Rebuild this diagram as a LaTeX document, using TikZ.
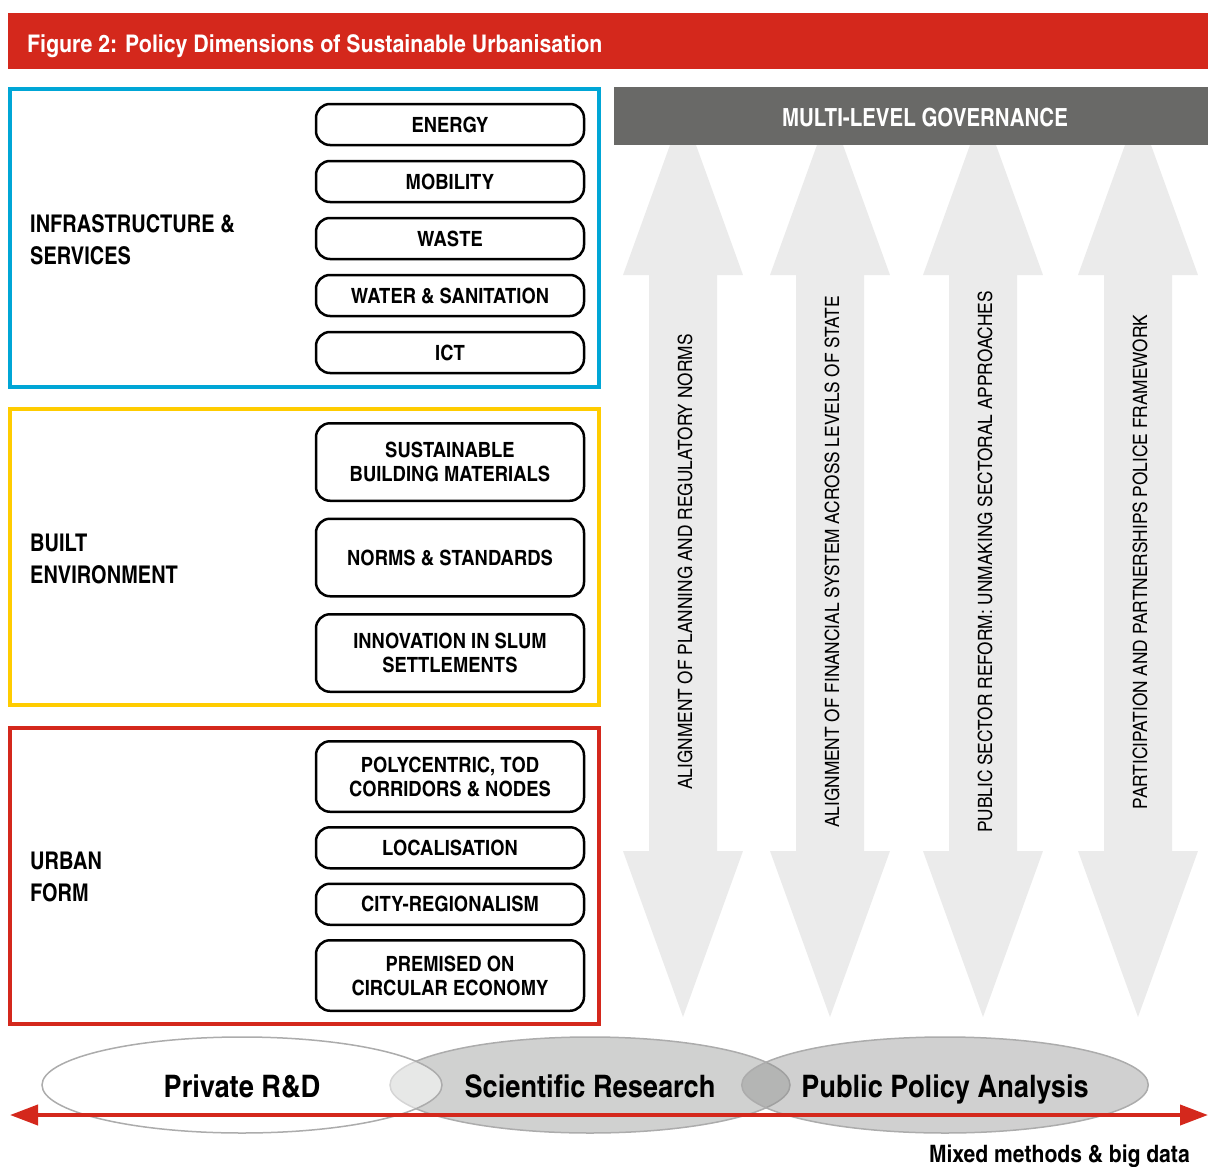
\documentclass[tikz,border=0pt]{standalone}
\usepackage{fontspec}
\setmainfont{texgyreheroscn}[Extension=.otf, UprightFont=*-regular, BoldFont=*-bold, ItalicFont=*-italic, BoldItalicFont=*-bolditalic]
\newfontfamily\dinfont{texgyreheroscn}[Extension=.otf, UprightFont=*-regular, BoldFont=*-bold, FakeStretch=1.07]
\usepackage{tikz}
\usepackage{xcolor}
\usetikzlibrary{positioning,shapes.geometric,arrows.meta,calc}
\definecolor{figred}{RGB}{212,40,28}
\definecolor{infblue}{RGB}{0,166,214}
\definecolor{builtyellow}{RGB}{255,204,0}
\definecolor{govgrey}{RGB}{105,105,103}
\definecolor{pillargrey}{RGB}{235,235,235}
\definecolor{ovalgrey}{RGB}{208,209,208}
\definecolor{ovaldark}{RGB}{145,146,145}
\definecolor{ovalline}{RGB}{172,172,172}

\tikzset{
	item/.style={draw=black, line width=2.5pt, rounded corners=14pt, minimum width=268pt, align=center, inner sep=0pt, outer sep=0pt, font=\dinfont\fontsize{21}{24}\selectfont\bfseries},
	group/.style={line width=4pt},
	grouplabel/.style={anchor=west, align=left, inner sep=0pt, font=\fontsize{24.4}{32}\selectfont\bfseries},
	pillartext/.style={rotate=90, font=\dinfont\fontsize{19.7}{22}\selectfont},
	oval/.style={ellipse, draw=ovalline, line width=1.5pt, inner sep=0pt, minimum width=400pt, minimum height=96pt, text height=24pt, text depth=0pt, text opacity=1, font=\dinfont\fontsize{31}{36}\selectfont\bfseries},
}

\begin{document}
\begin{tikzpicture}[x=1pt,y=-1pt]
	\useasboundingbox (0,0) rectangle (1208,1167);
	% title bar
	\node (title) [fill=figred, minimum width=1200pt, minimum height=56pt, anchor=north west, inner sep=0pt] at (8,13) {};
	\node (titletext) [anchor=base west, text=white, inner sep=0pt, font=\dinfont\fontsize{24.3}{28}\selectfont\bfseries] at (27,52) {Figure 2: Policy Dimensions of Sustainable Urbanisation};

	% governance pillars
	\foreach \cx/\txt in {683/ALIGNMENT OF PLANNING AND REGULATORY NORMS, 830/ALIGNMENT OF FINANCIAL SYSTEM ACROSS LEVELS OF STATE, 983/PUBLIC SECTOR REFORM: UNMAKING SECTORAL APPROACHES, 1138/PARTICIPATION AND PARTNERSHIPS POLICE FRAMEWORK} {
		\fill[pillargrey] (\cx,109) -- ({\cx+60},275) -- ({\cx+34},275) -- ({\cx+34},851) -- ({\cx+60},851) -- (\cx,1017) -- ({\cx-60},851) -- ({\cx-34},851) -- ({\cx-34},275) -- ({\cx-60},275) -- cycle;
		\node (pillar\cx) [pillartext] at ({\cx+2},562) {\txt};
	}
	\node (gov) [fill=govgrey, minimum width=594pt, minimum height=58pt, anchor=north west, inner sep=0pt] at (614,87) {};
	\node (govtext) [text=white, font=\fontsize{25}{28}\selectfont\bfseries] at (925,118) {MULTI-LEVEL GOVERNANCE};

	% infrastructure & services
	\draw[infblue, group] (10,89) rectangle (599,387);
	\node (infra) [grouplabel] at (30,240) {INFRASTRUCTURE \&\\SERVICES};
	\node (energy) [item, minimum height=41pt] at (450,124.5) {ENERGY};
	\node (mobility) [item, minimum height=41pt, below=16pt of energy] {MOBILITY};
	\node (waste) [item, minimum height=41pt, below=16pt of mobility] {WASTE};
	\node (water) [item, minimum height=41pt, below=16pt of waste] {WATER \& SANITATION};
	\node (ict) [item, minimum height=41pt, below=16pt of water] {ICT};

	% built environment
	\draw[builtyellow, group] (10,409) rectangle (599,705);
	\node (built) [grouplabel] at (30,559) {BUILT\\ENVIRONMENT};
	\node (materials) [item, minimum height=77.5pt] at (450,462) {SUSTAINABLE\\BUILDING MATERIALS};
	\node (norms) [item, minimum height=77.5pt, below=18pt of materials] {NORMS \& STANDARDS};
	\node (slums) [item, minimum height=77.5pt, below=18pt of norms] {INNOVATION IN SLUM\\SETTLEMENTS};

	% urban form
	\draw[figred, group] (10,728) rectangle (599,1024);
	\node (urban) [grouplabel] at (30,877) {URBAN\\FORM};
	\node (tod) [item, minimum height=70.5pt] at (450,776.5) {POLYCENTRIC, TOD\\CORRIDORS \& NODES};
	\node (local) [item, minimum height=41pt, below=15.5pt of tod] {LOCALISATION};
	\node (region) [item, minimum height=41pt, below=15.5pt of local] {CITY-REGIONALISM};
	\node (circular) [item, minimum height=70.5pt, below=15.5pt of region] {PREMISED ON\\CIRCULAR ECONOMY};

	% research ovals
	\node (science) [oval, fill=ovalgrey] at (590,1085) {Scientific Research};
	\node (private) [oval, fill=white, fill opacity=0.5] at (242,1085) {Private R\&D};
	\node (policy) [oval, fill=ovaldark, fill opacity=0.43, minimum width=406pt] at (945,1085) {Public Policy Analysis};
	\coordinate (lend) at (10,1115);
	\coordinate (rend) at (1208,1115);
	\draw[figred, line width=4pt, {Triangle[length=28pt,width=20pt]}-{Triangle[length=28pt,width=20pt]}] (lend) -- (rend);
	\node (methods) [anchor=base east, inner sep=0pt, font=\dinfont\fontsize{24}{28}\selectfont\bfseries] at (1190,1162) {Mixed methods \& big data};
\end{tikzpicture}
\end{document}
